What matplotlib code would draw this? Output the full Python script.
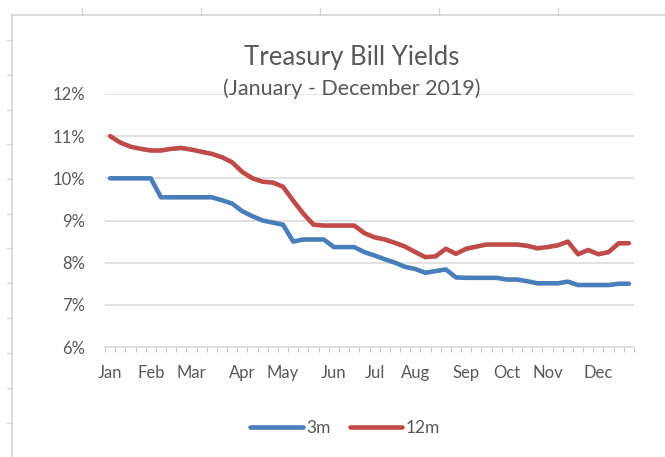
"""Treasury bill yields, weekly, 2019 (Excel-style line chart)."""

import matplotlib.pyplot as plt
from matplotlib.lines import Line2D
from matplotlib.ticker import FuncFormatter, FixedLocator

plt.rcParams["font.family"] = ["Lato", "DejaVu Sans"]

W, H = 665, 457

# weekly observations, Jan - Dec 2019 (percent)
yield_3m = [
    10.0, 10.0, 10.0, 10.0, 10.0, 9.55, 9.55, 9.55, 9.55, 9.55,
    9.55, 9.48, 9.4, 9.22, 9.1, 9.0, 8.95, 8.9, 8.5, 8.55,
    8.55, 8.55, 8.37, 8.37, 8.37, 8.25, 8.17, 8.08, 8.0, 7.9,
    7.85, 7.76, 7.8, 7.84, 7.65, 7.64, 7.64, 7.64, 7.64, 7.6,
    7.6, 7.56, 7.51, 7.51, 7.51, 7.55, 7.47, 7.47, 7.47, 7.47,
    7.5, 7.5,
]
yield_12m = [
    11.0, 10.85, 10.75, 10.7, 10.66, 10.66, 10.7, 10.72, 10.68, 10.63,
    10.58, 10.5, 10.38, 10.15, 10.0, 9.92, 9.9, 9.8, 9.47, 9.16,
    8.9, 8.88, 8.88, 8.88, 8.88, 8.7, 8.6, 8.55, 8.47, 8.38,
    8.25, 8.13, 8.15, 8.33, 8.21, 8.33, 8.38, 8.43, 8.43, 8.43,
    8.43, 8.4, 8.34, 8.37, 8.41, 8.5, 8.2, 8.3, 8.2, 8.25,
    8.46, 8.46,
]
# first week of each month
month_labels = ["Jan", "Feb", "Mar", "Apr", "May", "Jun",
                "Jul", "Aug", "Sep", "Oct", "Nov", "Dec"]
month_weeks = [0, 4, 8, 13, 17, 22, 26, 30, 35, 39, 43, 48]

BLUE = "#4A7EBB"
RED = "#BE4B48"
TEXT = "#595959"
GRID = "#D9D9D9"


def px(x0, y0, w, h):
    return [x0 / W, 1 - (y0 + h) / H, w / W, h / H]


fig = plt.figure(figsize=(W / 100, H / 100), dpi=100)

# spreadsheet cell borders behind the chart
sheet = "#D4D4D4"
fig.add_artist(Line2D([12 / W, 1], [1 - 15 / H] * 2, color=sheet, lw=1.2))
fig.add_artist(Line2D([12 / W] * 2, [1 - 15 / H, 0], color=sheet, lw=1.2))
for xt in [82, 201, 320, 439, 558]:
    fig.add_artist(Line2D([xt / W] * 2, [1 - 8 / H, 1 - 15 / H], color=sheet, lw=1))
for yt in [40, 75, 110, 144, 179, 214, 248, 283, 318, 353, 388, 423]:
    fig.add_artist(Line2D([7 / W, 12 / W], [1 - yt / H] * 2, color=sheet, lw=1))

ax = fig.add_axes(px(105, 94, 529, 253))
weeks = list(range(len(yield_3m)))
ax.plot(weeks, yield_3m, color=BLUE, lw=3.3, solid_capstyle="round",
        solid_joinstyle="round", label="3m", zorder=3)
ax.plot(weeks, yield_12m, color=RED, lw=3.3, solid_capstyle="round",
        solid_joinstyle="round", label="12m", zorder=3)

ax.set_xlim(-0.5, len(weeks) - 0.5)
ax.set_ylim(6, 12)
ax.set_yticks(range(6, 13))
ax.yaxis.set_major_formatter(FuncFormatter(lambda v, _: f"{v:.0f}%"))
ax.set_xticks(month_weeks)
ax.set_xticklabels(month_labels)
ax.xaxis.set_minor_locator(FixedLocator([w - 0.5 for w in range(len(weeks) + 1)]))

ax.tick_params(axis="y", length=0, pad=14, labelsize=12, labelcolor=TEXT)
ax.tick_params(axis="x", which="major", length=0, pad=13, labelsize=12,
               labelcolor=TEXT)
ax.tick_params(axis="x", which="minor", length=3.5, width=0.8, color="#C8C8C8",
               direction="out")

for yv in range(7, 13):
    ax.axhline(yv, color=GRID, lw=1.1, zorder=1)
for side in ["top", "right", "left"]:
    ax.spines[side].set_visible(False)
ax.spines["bottom"].set_color(GRID)
ax.spines["bottom"].set_linewidth(1.1)

fig.text(352 / W, 1 - 58 / H, "Treasury Bill Yields", ha="center", va="center",
         fontsize=18.5, color=TEXT)
fig.text(352 / W, 1 - 89 / H, "(January - December 2019)", ha="center",
         va="center", fontsize=15.5, color=TEXT)

fig.legend(loc="center", bbox_to_anchor=(345 / W, 1 - 428 / H), ncol=2,
           frameon=False, fontsize=12.5, labelcolor=TEXT, handlelength=3.0,
           handletextpad=0.2, columnspacing=1.1)

fig.savefig("out.png", dpi=100)
